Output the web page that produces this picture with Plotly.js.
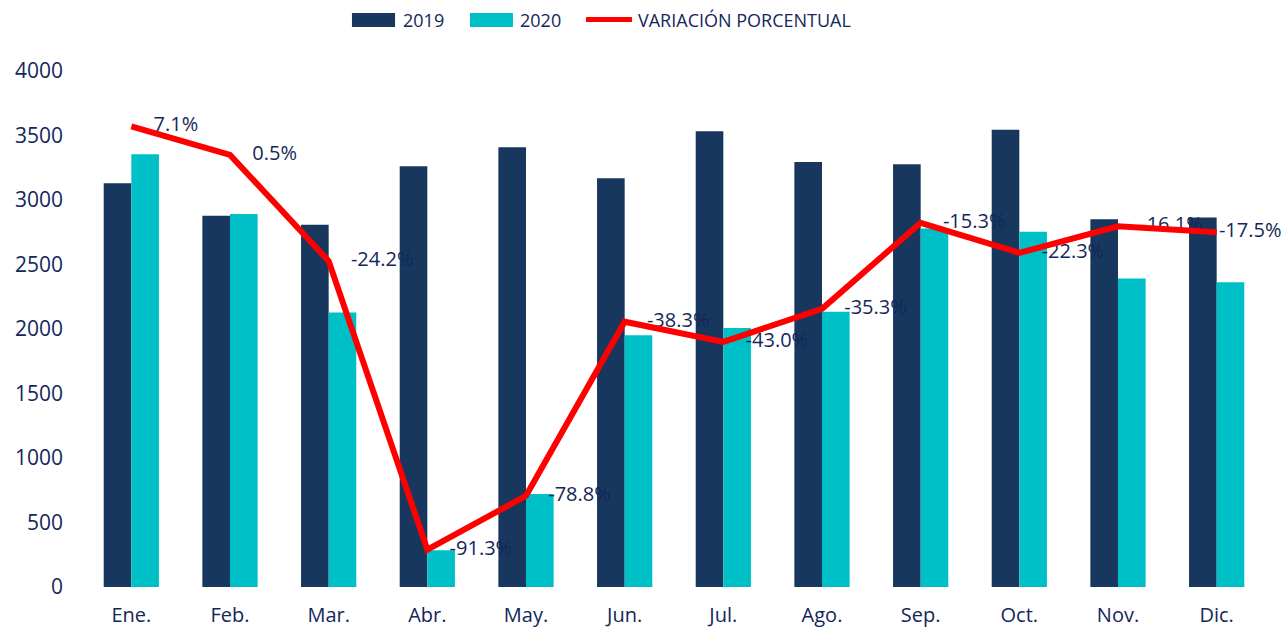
<!DOCTYPE html>
<html>
<head>
<meta charset="utf-8">
<script src="https://cdn.plot.ly/plotly-3.0.1.min.js"></script>
<style>html,body{margin:0;padding:0;background:#fff;}#chart{width:1284px;height:629px;}</style>
</head>
<body>
<div id="chart"></div>
<script>
const months = ['Ene.','Feb.','Mar.','Abr.','May.','Jun.','Jul.','Ago.','Sep.','Oct.','Nov.','Dic.'];
const values2019 = [3130, 2878, 2809, 3262, 3409, 3168, 3532, 3294, 3278, 3545, 2850, 2865];
const values2020 = [3354, 2891, 2127, 284, 721, 1952, 2008, 2133, 2779, 2753, 2391, 2363];
const variation = [7.1, 0.5, -24.2, -91.3, -78.8, -38.3, -43.0, -35.3, -15.3, -22.3, -16.1, -17.5];
const tickVals = [0, 500, 1000, 1500, 2000, 2500, 3000, 3500, 4000];
const seriesNames = ['2019', '2020', 'VARIACIÓN PORCENTUAL'];

const NAVY = '#17375E';
const CYAN = '#00C0C7';
const RED = '#FF0000';
const TXT = '#13275A';
const FONT = 'Open Sans, Noto Sans, sans-serif';

const labels = variation.map(v => v.toFixed(1) + '%');
// invisible marker sizes only control the gap between each point and its label
const labelGap = months.map((m, i) => i === months.length - 1 ? 2 : 34);

const traces = [
  {type:'bar', x:months, y:values2019, name:seriesNames[0], marker:{color:NAVY}, hoverinfo:'skip'},
  {type:'bar', x:months, y:values2020, name:seriesNames[1], marker:{color:CYAN}, hoverinfo:'skip'},
  {type:'scatter', mode:'markers+text', x:months, y:variation, yaxis:'y2', text:labels,
   textposition:'middle right', textfont:{family:FONT, size:20, color:TXT},
   marker:{size:labelGap, color:'rgba(0,0,0,0)', opacity:0, line:{width:0, color:'rgba(0,0,0,0)'}},
   hoverinfo:'skip', cliponaxis:false},
  {type:'scatter', mode:'lines', x:months, y:variation, yaxis:'y2', name:seriesNames[2],
   line:{color:RED, width:6}, hoverinfo:'skip', cliponaxis:false}
];

// manual legend (swatches + texts) in paper coordinates
const legendColors = [NAVY, CYAN, RED];
const swatchX = [[0.2280, 0.2644], [0.3277, 0.3640], [0.4257, 0.4645]];
const textX = [0.2694, 0.3682, 0.4679];
const shapes = [];
const annotations = [];
seriesNames.forEach((n, i) => {
  if (i < 2) {
    shapes.push({type:'rect', xref:'paper', yref:'paper', x0:swatchX[i][0], x1:swatchX[i][1],
                 y0:1.0853, y1:1.1124, fillcolor:legendColors[i], line:{width:0}});
  } else {
    shapes.push({type:'line', xref:'paper', yref:'paper', x0:swatchX[i][0], x1:swatchX[i][1],
                 y0:1.0998, y1:1.0998, line:{color:legendColors[i], width:5}});
  }
  annotations.push({xref:'paper', yref:'paper', x:textX[i], y:1.0988, xanchor:'left', yanchor:'middle',
                    text:n, showarrow:false, font:{family:FONT, size:18, color:TXT}});
});

const layout = {
  width:1284, height:629,
  margin:{l:82, r:18, t:71, b:42, autoexpand:false},
  paper_bgcolor:'#fff', plot_bgcolor:'#fff',
  barmode:'group', bargap:0.44, bargroupgap:0,
  font:{family:FONT, color:TXT},
  showlegend:false,
  xaxis:{type:'category', range:[-0.5, 11.5], autorange:false, showgrid:false, zeroline:false, showline:false, ticks:'', automargin:false,
         tickfont:{family:FONT, size:20, color:TXT}, ticklabelstandoff:14},
  yaxis:{range:[0,4000], tickvals:tickVals, showgrid:false, zeroline:false, showline:false, ticks:'', automargin:false,
         tickfont:{family:FONT, size:21, color:TXT}, ticklabelstandoff:18},
  yaxis2:{range:[-100,20], overlaying:'y', side:'right', visible:false, showgrid:false, zeroline:false, automargin:false},
  shapes: shapes,
  annotations: annotations
};
Plotly.newPlot('chart', traces, layout, {staticPlot:true, displayModeBar:false});
</script>
</body>
</html>
